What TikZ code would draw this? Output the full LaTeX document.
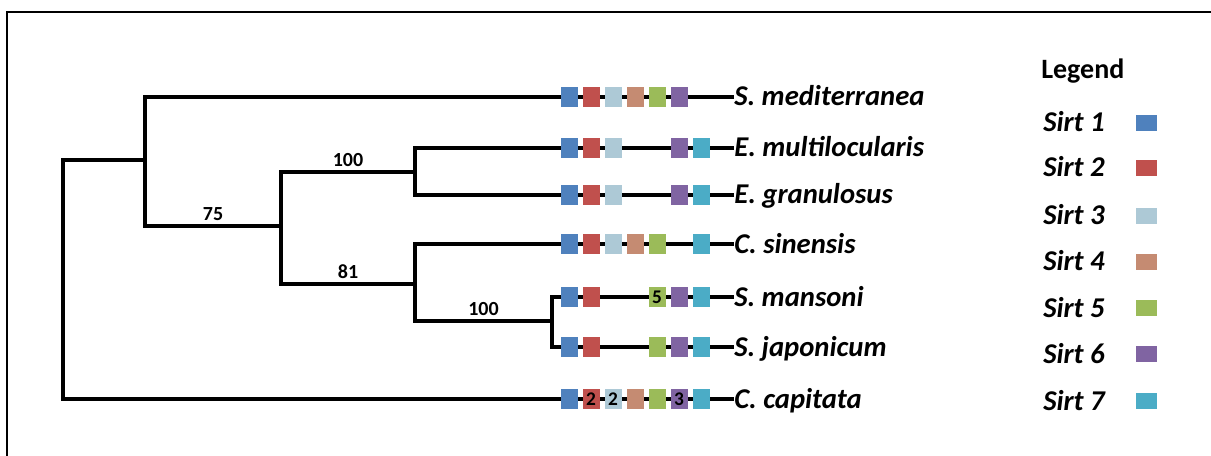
\documentclass[tikz,border=0pt]{standalone}
\usepackage{fontspec}
\setmainfont{Carlito}
\definecolor{sirt1}{HTML}{4F81BD}
\definecolor{sirt2}{HTML}{C0504D}
\definecolor{sirt3}{HTML}{ADC9D6}
\definecolor{sirt4}{HTML}{C58B72}
\definecolor{sirt5}{HTML}{9BBB59}
\definecolor{sirt6}{HTML}{8064A2}
\definecolor{sirt7}{HTML}{4BACC6}
\tikzstyle{treeLine} = [line width=2.6pt, draw=black]
\tikzstyle{frameLine} = [line width=1.4pt, draw=black]
\tikzstyle{sirtBox} = [shape=rectangle, inner sep=0pt, text=black,
	minimum width=12.75pt, minimum height=15pt, font=\fontsize{14.5}{14.5}\selectfont\bfseries]
\tikzstyle{keyBox} = [shape=rectangle, inner sep=0pt,
	minimum width=15.75pt, minimum height=12pt]
\tikzstyle{speciesLabel} = [anchor=west, inner sep=0pt, text height=13.5pt,
	text depth=0pt, font=\fontsize{21.5}{21.5}\selectfont\bfseries\itshape]
\tikzstyle{bootLabel} = [above, inner sep=2.5pt, font=\fontsize{15}{15}\selectfont\bfseries]

\begin{document}
\begin{tikzpicture}[x=0.75pt, y=-0.75pt]
  \useasboundingbox (0,0) rectangle (1211,456);
  \draw[frameLine] (7,456) -- (7,12) -- (1211,12);

  \node[speciesLabel] (med)  at (734,97)  {S. mediterranea};
  \node[speciesLabel] (mult) at (734,148) {E. multilocularis};
  \node[speciesLabel] (gran) at (734,195) {E. granulosus};
  \node[speciesLabel] (sin)  at (734,244) {C. sinensis};
  \node[speciesLabel] (man)  at (734,297) {S. mansoni};
  \node[speciesLabel] (jap)  at (734,347) {S. japonicum};
  \node[speciesLabel] (cap)  at (734,399) {C. capitata};

  \coordinate (n0) at (63,280);
  \coordinate (nA) at (145,160);
  \coordinate (nB) at (281,226);
  \coordinate (nC) at (415,172);
  \coordinate (nD) at (415,284);
  \coordinate (nE) at (552,321);

  \draw[treeLine] (med.west) -| (nA);
  \draw[treeLine] (nB) -| node[bootLabel, pos=0.25] {75} (nA);
  \draw[treeLine] (nA) -| (n0);
  \draw[treeLine] (cap.west) -| (n0);
  \draw[treeLine] (nC) -| node[bootLabel, pos=0.25] {100} (nB);
  \draw[treeLine] (nD) -| node[bootLabel, pos=0.25] {81} (nB);
  \draw[treeLine] (mult.west) -| (nC);
  \draw[treeLine] (gran.west) -| (nC);
  \draw[treeLine] (sin.west) -| (nD);
  \draw[treeLine] (nE) -| node[bootLabel, pos=0.25] {100} (nD);
  \draw[treeLine] (man.west) -| (nE);
  \draw[treeLine] (jap.west) -| (nE);

  \foreach \k in {1,2,3,4,5,6}
    \node[sirtBox, fill=sirt\k] (med\k) at ({547+22*\k},97) {};
  \foreach \k in {1,2,3,6,7}
    \node[sirtBox, fill=sirt\k] (mult\k) at ({547+22*\k},148) {};
  \foreach \k in {1,2,3,6,7}
    \node[sirtBox, fill=sirt\k] (gran\k) at ({547+22*\k},195) {};
  \foreach \k in {1,2,3,4,5,7}
    \node[sirtBox, fill=sirt\k] (sin\k) at ({547+22*\k},244) {};
  \foreach \k/\t in {1/,2/,5/5,6/,7/}
    \node[sirtBox, fill=sirt\k] (man\k) at ({547+22*\k},297) {\t};
  \foreach \k in {1,2,5,6,7}
    \node[sirtBox, fill=sirt\k] (jap\k) at ({547+22*\k},347) {};
  \foreach \k/\t in {1/,2/2,3/2,4/,5/,6/3,7/}
    \node[sirtBox, fill=sirt\k] (cap\k) at ({547+22*\k},399) {\t};

  \node[anchor=base west, inner sep=0pt, font=\fontsize{21}{21}\selectfont\bfseries]
    (legend) at (1041,79) {Legend};
  \foreach \k/\yy in {1/123,2/168,3/216,4/262,5/308,6/354,7/401}{
    \node[speciesLabel] (sirt\k) at (1043,\yy) {Sirt \k};
    \node[keyBox, fill=sirt\k] (key\k) at (1146.5,\yy) {};
  }
\end{tikzpicture}
\end{document}
